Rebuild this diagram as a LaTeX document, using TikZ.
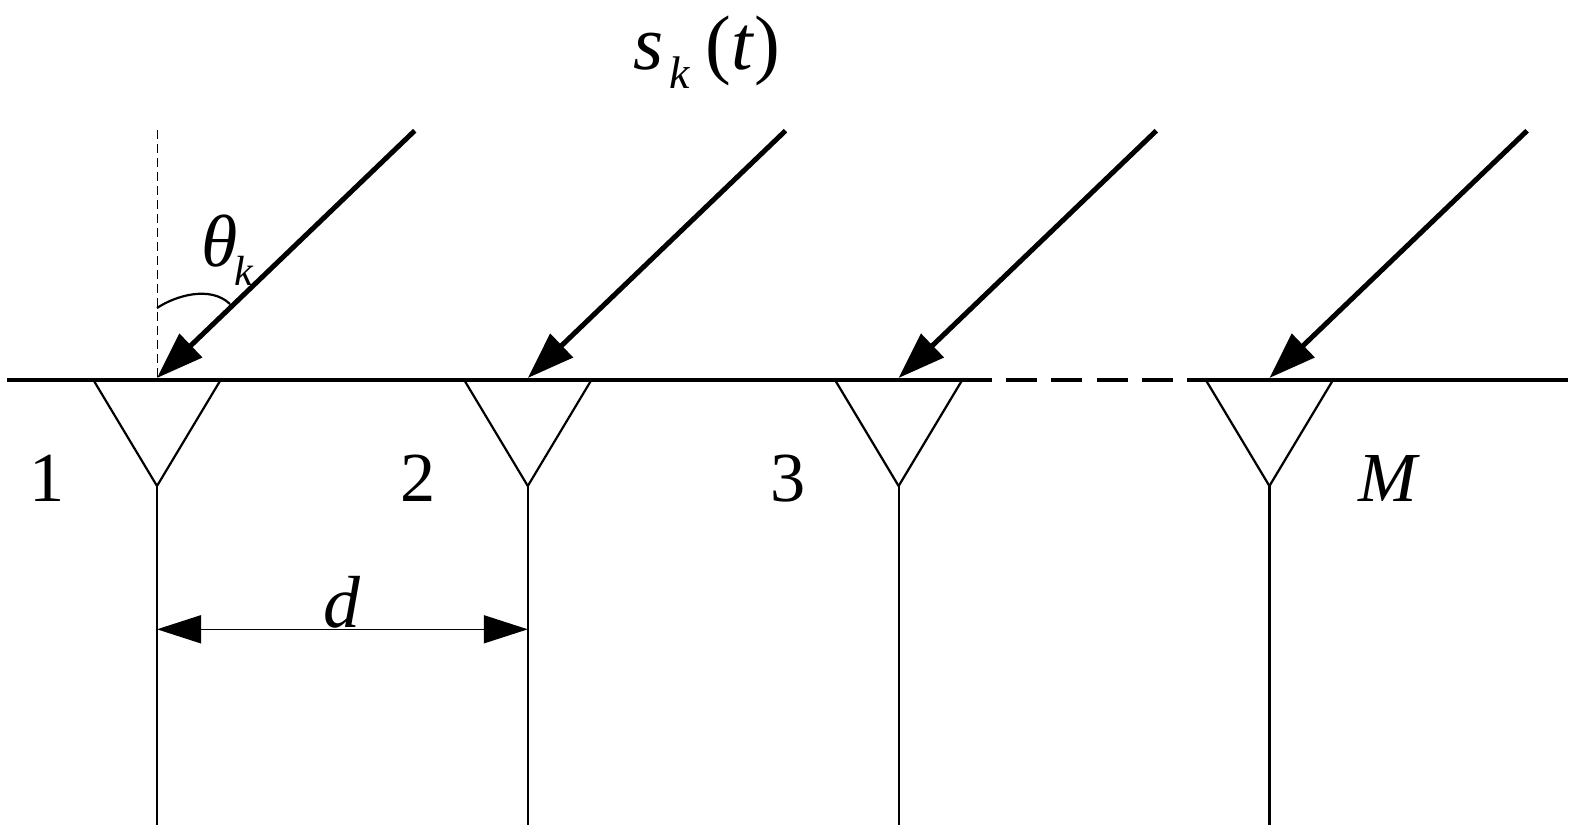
\documentclass[tikz,border=0pt]{standalone}
\usepackage{fontspec}
\setmainfont{Liberation Serif}
\usetikzlibrary{arrows.meta}

\begin{document}
\begin{tikzpicture}[
	label/.style={inner sep=0pt,anchor=base,font=\fontsize{20}{24}\selectfont},
	wave/.style={line width=0.05cm,-{Triangle[length=0.47cm,width=0.32cm]}},
	baseline/.style={line width=0.045cm},
	antenna/.style={line width=0.022cm},
	spacing/.style={line width=0.016cm,{Triangle[length=0.44cm,width=0.28cm]}-{Triangle[length=0.44cm,width=0.28cm]}}
]
	\useasboundingbox (0,0) rectangle (15.77,8.37);

	\coordinate	(left)	at	(0.07,4.57);
	\coordinate	(right)	at	(15.68,4.57);
	\coordinate	(solid0)	at	(9.92,4.57);
	\coordinate	(dash0)	at	(10.06,4.57);
	\coordinate	(dash1)	at	(11.73,4.57);
	\coordinate	(solid1)	at	(11.87,4.57);

	\coordinate	(a1)	at	(1.57,4.59);
	\coordinate	(a2)	at	(5.278,4.59);
	\coordinate	(a3)	at	(8.986,4.59);
	\coordinate	(a4)	at	(12.694,4.59);

	\coordinate	(s1)	at	(4.147,7.063);
	\coordinate	(s2)	at	(7.855,7.063);
	\coordinate	(s3)	at	(11.563,7.063);
	\coordinate	(s4)	at	(15.271,7.063);

	\coordinate	(l1)	at	(0.934,4.57);
	\coordinate	(l2)	at	(4.642,4.57);
	\coordinate	(l3)	at	(8.35,4.57);
	\coordinate	(l4)	at	(12.058,4.57);

	\coordinate	(r1)	at	(2.206,4.57);
	\coordinate	(r2)	at	(5.914,4.57);
	\coordinate	(r3)	at	(9.622,4.57);
	\coordinate	(r4)	at	(13.33,4.57);

	\coordinate	(y1)	at	(1.57,3.51);
	\coordinate	(y2)	at	(5.278,3.51);
	\coordinate	(y3)	at	(8.986,3.51);
	\coordinate	(y4)	at	(12.694,3.51);

	\coordinate	(b1)	at	(1.57,0.12);
	\coordinate	(b2)	at	(5.278,0.12);
	\coordinate	(b3)	at	(8.986,0.12);
	\coordinate	(b4)	at	(12.694,0.12);

	\coordinate	(dim1)	at	(1.57,2.077);
	\coordinate	(dim2)	at	(5.278,2.077);
	\coordinate	(normal)	at	(1.57,7.07);
	\coordinate	(arc0)	at	(1.57,5.29);
	\coordinate	(arc1)	at	(2.30,5.33);

	\node[label]	(n1)	at	(0.475,3.35)	{1};
	\node[label]	(n2)	at	(4.185,3.35)	{2};
	\node[label]	(n3)	at	(7.885,3.35)	{3};
	\node[label]	(nM)	at	(13.89,3.35)	{\textit{M}};
	\node[label,font=\fontsize{21}{25}\selectfont]	(nd)	at	(3.42,2.10)	{\textit{d}};
	\node[label,anchor=base west,font=\fontsize{21}{25}\selectfont]	(ntheta)	at	(2.01,5.70)	{\textit{θ}\kern-1pt\raisebox{-5.4pt}{\fontsize{12}{14}\selectfont\textit{k}}};
	\node[label,anchor=base west,font=\fontsize{22}{26}\selectfont]	(ns)	at	(6.33,7.67)	{\textit{s}\kern1.5pt\raisebox{-5.4pt}{\fontsize{13}{15}\selectfont\textit{k}}\kern4.5pt(\textit{t})};

	\draw[baseline]	(left)	--	(solid0);
	\draw[baseline,dash pattern=on 0.31cm off 0.143cm]	(dash0)	--	(dash1);
	\draw[baseline]	(solid1)	--	(right);

	\draw[antenna]	(l1)	--	(y1);
	\draw[antenna]	(r1)	--	(y1);
	\draw[antenna]	(y1)	--	(b1);
	\draw[antenna]	(l2)	--	(y2);
	\draw[antenna]	(r2)	--	(y2);
	\draw[antenna]	(y2)	--	(b2);
	\draw[antenna]	(l3)	--	(y3);
	\draw[antenna]	(r3)	--	(y3);
	\draw[antenna]	(y3)	--	(b3);
	\draw[antenna]	(l4)	--	(y4);
	\draw[antenna]	(r4)	--	(y4);
	\draw[antenna]	(y4)	--	(b4);

	\draw[wave]	(s1)	--	(a1);
	\draw[wave]	(s2)	--	(a2);
	\draw[wave]	(s3)	--	(a3);
	\draw[wave]	(s4)	--	(a4);

	\draw[line width=0.01cm,dash pattern=on 0.09cm off 0.05cm]	(normal)	--	(a1);
	\draw[antenna]	(arc0)	..	controls	(1.75,5.41) and (2.10,5.52)	..	(arc1);
	\draw[spacing]	(dim1)	--	(dim2);
\end{tikzpicture}
\end{document}
